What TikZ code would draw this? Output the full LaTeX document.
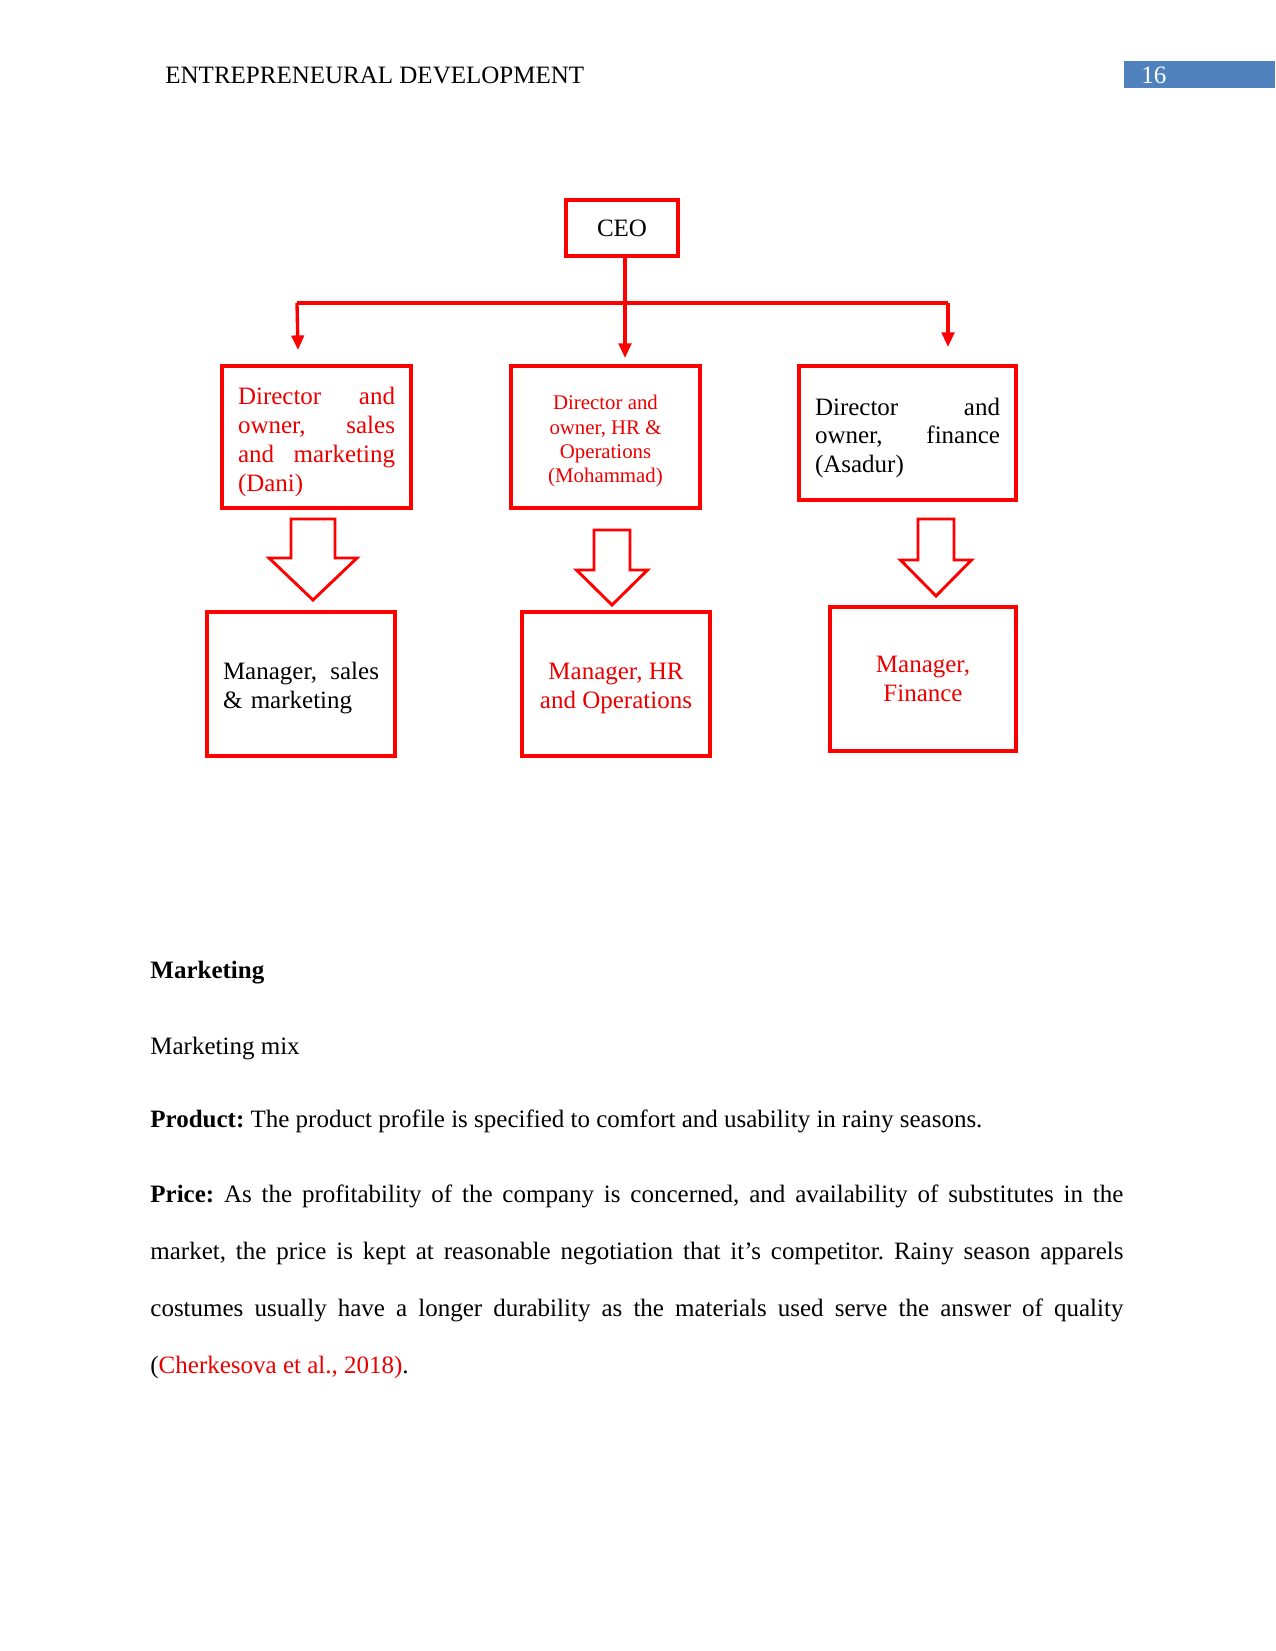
\documentclass[tikz,border=0pt]{standalone}
\usepackage{fontspec}
\setmainfont{Liberation Serif}
\usetikzlibrary{positioning,calc,arrows.meta}
\definecolor{chartred}{RGB}{255,0,0}
\definecolor{labelred}{RGB}{235,0,0}
\definecolor{pageblue}{RGB}{79,129,189}
\newcommand{\pxu}{0.48pt}
\newcommand{\toppad}[1]{\rule{0pt}{#1}}
\frenchspacing

\begin{document}
\begin{tikzpicture}[
        x=0.48pt, y=-0.48pt,
        orgbox/.style={rectangle, draw=chartred, line width=2pt, inner sep=0pt, font=\fontsize{12}{13.8}\selectfont},
        tree/.style={draw=chartred, line width=1.6pt, -{Triangle[length=7pt,width=6pt]}},
        blockarrow/.style={draw=chartred, line width=1.4pt, line join=miter},
        bodytext/.style={anchor=base west, inner sep=0pt, font=\fontsize{12}{27.5}\selectfont}
    ]
        \useasboundingbox (0,0) rectangle (1275,1651);

        % Running head
        \node[anchor=base west, inner sep=0pt, font=\fontsize{12}{14}\selectfont] (runhead) at (165,84) {ENTREPRENEURAL DEVELOPMENT};
        \fill[pageblue] (1124,61) rectangle (1275,88);
        \node[anchor=base west, inner sep=0pt, text=white, font=\fontsize{12}{14}\selectfont] (pageno) at (1141,84) {16};

        % CEO
        \node[orgbox, minimum width=112*\pxu, minimum height=56*\pxu] (ceo) at (622,228) {CEO};

        % Directors
        \node[orgbox, minimum width=189*\pxu, minimum height=142*\pxu, text width=157*\pxu, align=left, text=labelred] (dirsales) at (316.5,437)
            {\toppad{13pt}Director \hfill and\\ owner, \hfill sales\\ and \hfill marketing\\ (Dani)};
        \node[orgbox, minimum width=189*\pxu, minimum height=142*\pxu, align=center, text=labelred, font=\fontsize{10}{11.6}\selectfont] (dirhr) at (605.5,437)
            {\toppad{11pt}Director and\\ owner, HR \&\\ Operations\\ (Mohammad)};
        \node[orgbox, minimum width=217*\pxu, minimum height=134*\pxu, text width=185*\pxu, align=left] (dirfin) at (907.5,433)
            {\toppad{13pt}Director \hfill and\\ owner, \hfill finance\\ (Asadur)};

        % Managers
        \node[orgbox, minimum width=188*\pxu, minimum height=144*\pxu, text width=156*\pxu, align=left] (mgrsales) at (301,684)
            {\toppad{12pt}Manager, \hfill sales\\ \& marketing};
        \node[orgbox, minimum width=188*\pxu, minimum height=144*\pxu, align=center, text=labelred] (mgrhr) at (616,684)
            {\toppad{12pt}Manager, HR\\ and Operations};
        \node[orgbox, minimum width=186*\pxu, minimum height=144*\pxu, align=center, text=labelred] (mgrfin) at (923,679)
            {Manager,\\ Finance};

        % Tree from the CEO
        \coordinate (busleft) at (297,303);
        \coordinate (busright) at (948,303);
        \coordinate (tipsales) at (298,350);
        \coordinate (tiphr) at (625,358);
        \coordinate (tipfin) at (948,347);
        \draw[draw=chartred, line width=1.6pt] (busleft) -- (busright);
        \draw[tree] (ceo.south -| tiphr) -- (tiphr);
        \draw[tree] (busleft) -- (tipsales);
        \draw[tree] (busright) -- (tipfin);

        % Hollow arrows down to the managers
        \foreach \cx/\sh/\hh/\ytop/\ybase/\ytip in {313/22/44/519/558/600, 612/18/35.5/530/570/605, 936/18/35.5/519/560/596}
            \draw[blockarrow] (\cx-\sh,\ytop) -- (\cx+\sh,\ytop) -- (\cx+\sh,\ybase) -- (\cx+\hh,\ybase)
                -- (\cx,\ytip) -- (\cx-\hh,\ybase) -- (\cx-\sh,\ybase) -- cycle;

        % Text below the chart
        \node[bodytext, font=\fontsize{12}{14}\selectfont\bfseries] (sechead) at (150,978) {Marketing};
        \node[bodytext] (mixline) at (150,1054) {Marketing mix};
        \node[bodytext] (product) at (150,1127) {\textbf{Product:} The product profile is specified to comfort and usability in rainy seasons.};
        \node[bodytext, text width=973*\pxu, align=justify] (price) at (150,1202)
            {\textbf{Price:} As the profitability of the company is concerned, and availability of substitutes in the\linebreak
            market, the price is kept at reasonable negotiation that it’s competitor. Rainy season apparels\linebreak
            costumes usually have a longer durability as the materials used serve the answer of quality\linebreak
            (\textcolor{labelred}{Cherkesova et al., 2018)}.};

    \end{tikzpicture}
\end{document}
